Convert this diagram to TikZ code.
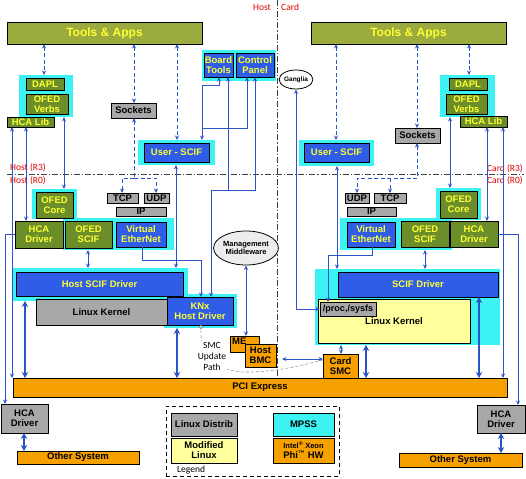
\documentclass[tikz,border=0pt]{standalone}
\usepackage{fontspec}
\setmainfont{Liberation Sans}
\newfontfamily\calfont{Carlito}
\usetikzlibrary{arrows.meta,shapes.geometric}
\definecolor{olivel}{HTML}{9BAB3E}
\definecolor{oliveg}{HTML}{6B8E2A}
\definecolor{blu}{HTML}{2F5DE8}
\definecolor{cyn}{HTML}{3CF2F2}
\definecolor{gry}{HTML}{A8A8A8}
\definecolor{org}{HTML}{F7A100}
\definecolor{ylw}{HTML}{FFFF9E}
\definecolor{lnb}{HTML}{2B55C6}
\definecolor{txty}{HTML}{FFFF33}
\definecolor{redl}{HTML}{E00000}
\newcommand\mybox[7]{\node[#1, anchor=north west, minimum width={#5pt-#3pt}, minimum height={#6pt-#4pt}] (#2) at (#3,#4) {#7};}
\begin{document}
\begin{tikzpicture}[x=1pt,y=-1pt,
  base/.style={draw=black, line width=0.8pt, inner sep=0pt, outer sep=0pt, align=center, font=\fontsize{9.5}{10}\selectfont\bfseries},
  gbox/.style={base, fill=oliveg, text=txty},
  tbox/.style={base, fill=olivel, text=txty, font=\fontsize{12}{13}\selectfont\bfseries},
  bbox/.style={base, fill=blu, text=txty},
  graybox/.style={base, fill=gry, text=black},
  orbox/.style={base, fill=org, text=black},
  ybox/.style={base, fill=ylw, text=black},
  cbox/.style={base, fill=cyn, text=black},
  cbg/.style={fill=cyn, draw=none, inner sep=0pt, outer sep=0pt},
  legbox/.style={draw=black, line width=0.8pt, dash pattern=on 4pt off 3pt, inner sep=0pt, outer sep=0pt},
  lbl/.style={font=\calfont\fontsize{9.5}{10}\selectfont, text=redl, inner sep=0pt},
  ln/.style={draw=lnb, line width=0.9pt, >={Stealth[length=4.5pt,width=4pt]}},
  dl/.style={ln, dash pattern=on 4pt off 2.5pt},
  tk/.style={draw=lnb, line width=2.2pt, >={Stealth[length=6pt,width=6.5pt]}},
  dd/.style={draw=black!75, line width=0.7pt, dash pattern=on 6pt off 2pt on 1.2pt off 2pt}
]
\useasboundingbox (0,0) rectangle (526,478);
\fill[white] (0,0) rectangle (526,478);

% Host / Card separators
\draw[dd] (277,0) -- (277,378);
\draw[dd] (7,174) -- (524,174);
\node[lbl, anchor=east] (hostT) at (271,7) {Host};
\node[lbl, anchor=west] (cardT) at (281,7) {Card};
\node[lbl, anchor=west] (hr3) at (10,168) {Host (R3)};
\node[lbl, anchor=west] (hr0) at (10,181) {Host (R0)};
\node[lbl, anchor=east] (cr3) at (523,169) {Card (R3)};
\node[lbl, anchor=east] (cr0) at (523,181) {Card (R0)};

% cyan groups
\mybox{cbg}{cDAPLL}{19}{75}{73}{117}{}
\mybox{cbg}{cBT}{202}{50}{276}{81}{}
\mybox{cbg}{cUserL}{138}{140}{215}{165}{}
\mybox{cbg}{cOFCL}{32}{189}{77}{219}{}
\mybox{cbg}{cOFSL}{63}{218}{174}{250}{}
\mybox{cbg}{cHostL}{13}{268}{188}{301}{}
\mybox{cbg}{cKNx}{164}{294}{237}{328}{}
\mybox{cbg}{cDAPLR}{440}{75}{495}{117}{}
\mybox{cbg}{cUserR}{299}{140}{374}{166}{}
\mybox{cbg}{cOFCR}{436}{188}{481}{220}{}
\mybox{cbg}{cOFSR}{340}{218}{452}{250}{}
\mybox{cbg}{cSCIFR}{315}{269}{500}{345}{}

% left boxes
\mybox{tbox}{TAL}{7}{22}{202}{44}{Tools \& Apps}
\mybox{gbox}{DAPLL}{26}{78}{64}{90}{DAPL}
\mybox{gbox}{VerbsL}{26}{94}{68}{114}{OFED\\Verbs}
\mybox{gbox}{HCALibL}{7}{117}{54}{127}{HCA Lib}
\mybox{graybox}{SockL}{111}{103}{156}{118}{Sockets}
\mybox{bbox}{BoardT}{204}{53}{233}{77}{Board\\Tools}
\mybox{bbox}{CtrlP}{236}{53}{274}{77}{Control\\Panel}
\mybox{bbox}{UserL}{144}{143}{209}{162}{User - SCIF}
\mybox{graybox}{TCPL}{107}{193}{138}{203}{TCP}
\mybox{graybox}{UDPL}{144}{193}{169}{203}{UDP}
\mybox{graybox}{IPL}{116}{207}{166}{216}{IP}
\mybox{gbox}{OFEDCoreL}{36}{192}{73}{218}{OFED\\Core}
\mybox{gbox}{HCADrvL}{15}{221}{63}{248}{HCA\\Driver}
\mybox{gbox}{OSCIFL}{65}{221}{112}{248}{OFED\\SCIF}
\mybox{bbox}{VEL}{116}{222}{166}{247}{Virtual\\EtherNet}
\mybox{bbox}{HostSCIF}{16}{272}{183}{296}{Host SCIF Driver}
\mybox{graybox}{LinuxL}{36}{299}{167}{325}{Linux Kernel}
\mybox{bbox}{KNx}{167}{297}{233}{325}{KNx\\Host Driver}
\node[ellipse, draw=black, line width=0.8pt, fill=black!7, minimum width=60pt, minimum height=34pt, inner sep=0pt, align=center, font=\fontsize{7.5}{8.5}\selectfont\bfseries] (MgmtMW) at (246,248) {Management\\Middleware};
\node[ellipse, draw=black, line width=0.8pt, fill=white, minimum width=32pt, minimum height=19pt, inner sep=0pt, font=\fontsize{6.5}{7}\selectfont\bfseries] (Ganglia) at (296,79.5) {Ganglia};
\mybox{orbox}{ME}{230}{336}{259}{352}{}
\node[font=\fontsize{9.5}{10}\selectfont\bfseries, anchor=north west, inner sep=0pt] (MEtxt) at (232,338) {ME};
\mybox{orbox}{HostBMC}{245}{344}{276}{367}{Host\\BMC}
\mybox{orbox}{PCI}{13}{378}{507}{397}{PCI Express}
\mybox{graybox}{HCADrvBL}{1}{404}{48}{433}{HCA\\Driver}
\mybox{orbox}{OtherL}{17}{451}{139}{464}{Other System}

% legend
\mybox{legbox}{Legend}{166}{406}{339}{476}{}
\mybox{graybox}{LinuxDist}{171}{413}{237}{436}{Linux Distrib}
\mybox{ybox}{ModLinux}{171}{438}{237}{463}{Modified\\Linux}
\mybox{cbox}{MPSS}{273}{413}{334}{436}{MPSS}
\mybox{orbox}{IntelHW}{273}{438}{334}{463}{\fontsize{7.5}{9}\selectfont Intel\textsuperscript{®} Xeon\\Phi\textsuperscript{™} HW}
\node[font=\calfont\fontsize{9.5}{10}\selectfont, anchor=west, inner sep=0pt] (legtxt) at (177,470) {Legend};

% right boxes
\mybox{tbox}{TAR}{311}{22}{506}{44}{Tools \& Apps}
\mybox{gbox}{DAPLR}{449}{78}{487}{90}{DAPL}
\mybox{gbox}{VerbsR}{446}{94}{487}{114}{OFED\\Verbs}
\mybox{gbox}{HCALibR}{460}{116}{507}{127}{HCA Lib}
\mybox{graybox}{SockR}{395}{128}{440}{143}{Sockets}
\mybox{bbox}{UserR}{304}{143}{369}{162}{User - SCIF}
\mybox{graybox}{UDPR}{345}{193}{369}{203}{UDP}
\mybox{graybox}{TCPR}{374}{193}{406}{203}{TCP}
\mybox{graybox}{IPR}{347}{207}{396}{216}{IP}
\mybox{gbox}{OFEDCoreR}{440}{191}{477}{218}{OFED\\Core}
\mybox{bbox}{VER}{347}{222}{395}{247}{Virtual\\EtherNet}
\mybox{gbox}{OSCIFR}{401}{221}{449}{247}{OFED\\SCIF}
\mybox{gbox}{HCADrvR}{450}{221}{498}{247}{HCA\\Driver}
\mybox{bbox}{SCIFDrv}{338}{272}{498}{297}{SCIF Driver}
\mybox{ybox}{LinuxR}{318}{299}{470}{343}{\raisebox{-6pt}{Linux Kernel}}
\mybox{graybox}{Proc}{320}{302}{376}{316}{\fontsize{9}{10}\selectfont /proc,/sysfs}
\mybox{orbox}{CardSMC}{323}{354}{358}{378}{Card\\SMC}
\mybox{graybox}{HCADrvBR}{477}{405}{525}{433}{HCA\\Driver}
\mybox{orbox}{OtherR}{399}{453}{522}{467}{Other System}

% SMC update path
\draw[black!40, line width=0.6pt, dash pattern=on 3pt off 2pt] (201,0 |- KNx.south) .. controls (199,352) and (212,373) .. (250,372) .. controls (285,371) and (305,364) .. (CardSMC.west |- 0,360);
\draw[black!50, line width=0.6pt, fill=white] (201,327) circle (1.6pt);
\node[font=\calfont\fontsize{9.5}{11}\selectfont, align=center, fill=white, inner sep=0.5pt] (smcpath) at (212,356) {SMC\\Update\\Path};

% ---- left connectors
\draw[dl,<->] (44,0 |- TAL.south) -- (44,0 |- cDAPLL.north);
\draw[dl,<->] (134,0 |- TAL.south) -- (134,0 |- SockL.north);
\draw[dl,<->] (177,0 |- TAL.south) -- (177,0 |- cUserL.north);
\coordinate (jSL) at (134,178);
\draw[dl,<-] (134,0 |- SockL.south) -- (jSL);
\draw[dl,->] (jSL) -- (122,178) -- (122,0 |- TCPL.north);
\draw[dl,->] (jSL) -- (156,178) -- (156,0 |- UDPL.north);
\draw[ln,<->] (26,0 |- HCALibL.south) -- (26,0 |- HCADrvL.north);
\draw[ln,<->] (12,0 |- HCALibL.south) -- (12,0 |- PCI.north);
\draw[ln,->] (HCADrvL.west) -- (5,0 |- HCADrvL.west) -- (5,0 |- HCADrvBL.north);
\draw[ln,<->] (64,0 |- cDAPLL.south) -- (64,0 |- cOFCL.north);
\draw[ln,<->] (88,0 |- cOFSL.south) -- (88,0 |- cHostL.north);
\draw[ln,<->] (176,0 |- cUserL.south) -- (176,0 |- cHostL.north);
\draw[ln,->] (142,0 |- VEL.south) -- (142,260) -- (201,260) -- (201,0 |- KNx.north);
\coordinate (jBT) at (202,128);
\draw[ln,<->] (219,0 |- BoardT.south) -- (219,85) -- (202,85) -- (202,0 |- cUserL.north);
\draw[ln,<-] (247,0 |- CtrlP.south) -- (247,128) -- (jBT);
\coordinate (jKN) at (228,190);
\draw[ln,<->] (228,0 |- BoardT.south) -- (jKN) -- (211,190) -- (211,0 |- KNx.north);
\draw[ln,<-] (255,0 |- CtrlP.south) -- (255,190) -- (jKN);
\draw[ln,<->] (MgmtMW.south) -- (MgmtMW.south |- ME.north);
\draw[tk,<->] (177,0 |- cKNx.south) -- (177,0 |- PCI.north);
\draw[tk,<->] (25,0 |- cHostL.south) -- (25,0 |- PCI.north);
\draw[tk,<->] (24,0 |- HCADrvBL.south) -- (24,0 |- OtherL.north);
\draw[ln,<->] (282,359) -- (CardSMC.west |- 0,359);

% ---- right connectors
\draw[dl,<->] (336,0 |- TAR.south) -- (336,0 |- cUserR.north);
\draw[dl,<->] (417,0 |- TAR.south) -- (417,0 |- SockR.north);
\draw[dl,<->] (469,0 |- TAR.south) -- (469,0 |- cDAPLR.north);
\coordinate (jSR) at (417,178);
\draw[dl,<-] (417,0 |- SockR.south) -- (jSR);
\draw[dl,->] (jSR) -- (357,178) -- (357,0 |- UDPR.north);
\draw[dl,->] (390,178) -- (390,0 |- TCPR.north);
\draw[ln,<->] (450,0 |- cDAPLR.south) -- (450,0 |- cOFCR.north);
\draw[ln,<->] (487,0 |- HCALibR.south) -- (487,0 |- HCADrvR.north);
\draw[ln,<->] (503,0 |- HCALibR.south) -- (503,0 |- PCI.north);
\draw[ln,->] (HCADrvR.east) -- (518,0 |- HCADrvR.east) -- (518,0 |- HCADrvBR.north);
\draw[ln,<->] (337,0 |- cUserR.south) -- (337,0 |- cSCIFR.north);
\draw[ln,<->] (425,0 |- cOFSR.south) -- (425,0 |- cSCIFR.north);
\draw[ln,->] (372,0 |- VER.south) -- (372,255) -- (328,255) -- (328,0 |- Proc.north);
\draw[ln,<->] (Ganglia.south) -- (Ganglia.south |- Proc.west) -- (Proc.west);
\draw[tk,<->] (479,0 |- SCIFDrv.south) -- (479,0 |- PCI.north);
\draw[tk,<->] (366,0 |- cSCIFR.south) -- (366,0 |- PCI.north);
\draw[ln,<->] (341,0 |- cSCIFR.south) -- (341,0 |- CardSMC.north);
\draw[tk,<->] (501,0 |- HCADrvBR.south) -- (501,0 |- OtherR.north);
\end{tikzpicture}
\end{document}
